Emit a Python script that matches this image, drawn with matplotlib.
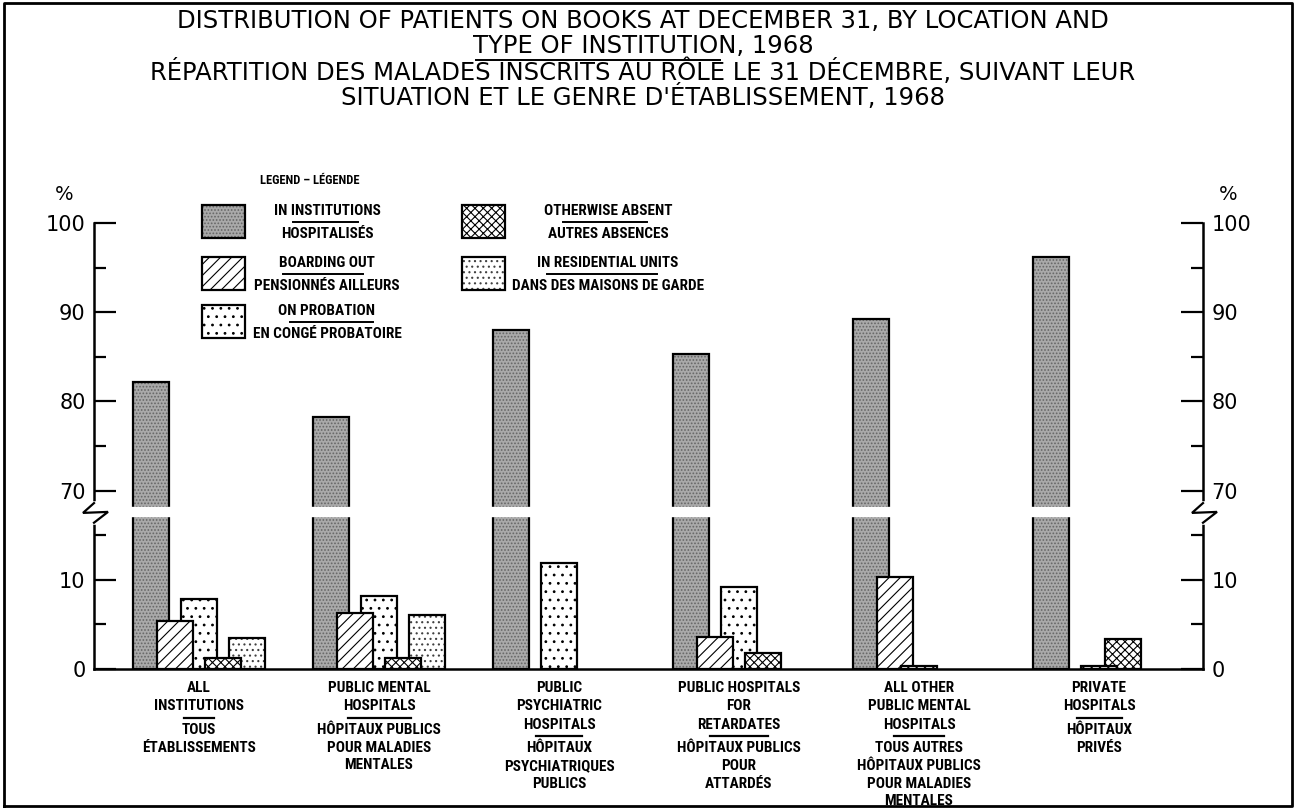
import matplotlib
matplotlib.use('Agg')
import matplotlib.pyplot as plt
from matplotlib.patches import Rectangle
import matplotlib.transforms as mtransforms

# ---- data (percent of patients on books) ----
groups_en = [['ALL', 'INSTITUTIONS'],
             ['PUBLIC MENTAL', 'HOSPITALS'],
             ['PUBLIC', 'PSYCHIATRIC', 'HOSPITALS'],
             ['PUBLIC HOSPITALS', 'FOR', 'RETARDATES'],
             ['ALL OTHER', 'PUBLIC MENTAL', 'HOSPITALS'],
             ['PRIVATE', 'HOSPITALS']]
groups_fr = [['TOUS', 'ÉTABLISSEMENTS'],
             ['HÔPITAUX PUBLICS', 'POUR MALADIES', 'MENTALES'],
             ['HÔPITAUX', 'PSYCHIATRIQUES', 'PUBLICS'],
             ['HÔPITAUX PUBLICS', 'POUR', 'ATTARDÉS'],
             ['TOUS AUTRES', 'HÔPITAUX PUBLICS', 'POUR MALADIES', 'MENTALES'],
             ['HÔPITAUX', 'PRIVÉS']]

institutions = [82.2, 78.3, 88.0, 85.3, 89.2, 96.2]
boarding = [5.4, 6.3, 0.0, 3.6, 10.3, 0.0]
probation = [7.9, 8.2, 11.9, 9.2, 0.3, 0.3]
otherwise = [1.2, 1.2, 0.0, 1.8, 0.0, 3.4]
residential = [3.5, 6.0, 0.0, 0.0, 0.0, 0.0]

series_en = ['IN INSTITUTIONS', 'BOARDING OUT', 'ON PROBATION',
             'OTHERWISE ABSENT', 'IN RESIDENTIAL UNITS']
series_fr = ['HOSPITALISÉS', 'PENSIONNÉS AILLEURS', 'EN CONGÉ PROBATOIRE',
             'AUTRES ABSENCES', 'DANS DES MAISONS DE GARDE']

y_major = [0, 10, 70, 80, 90, 100]
y_minor = [5, 15, 75, 85, 95]

title_lines = ['DISTRIBUTION OF PATIENTS ON BOOKS AT DECEMBER 31, BY LOCATION AND',
               'TYPE OF INSTITUTION, 1968',
               'RÉPARTITION DES MALADES INSCRITS AU RÔLE LE 31 DÉCEMBRE, SUIVANT LEUR',
               "SITUATION ET LE GENRE D'ÉTABLISSEMENT, 1968"]

# ---- broken scale: 0..17 shown as is, 70..100 shifted down by 50 ----
BREAK_LO, BREAK_HI, SHIFT = 17.2, 18.2, 50


def vis(v):
    return v if v <= BREAK_LO else v - SHIFT


plt.rcParams['hatch.linewidth'] = 0.8
LAB = ['Roboto Condensed', 'DejaVu Sans']

styles = [dict(face='#a9a9a9', hatch='.....', hc='#666666'),
          dict(face='white', hatch='///', hc='black'),
          dict(face='white', hatch='..', hc='black'),
          dict(face='white', hatch='xxxx', hc='black'),
          dict(face='white', hatch='...', hc='#404040')]

fig = plt.figure(figsize=(12.98, 8.08), dpi=100)
ov = fig.add_axes([0, 0, 1, 1], zorder=2)
ov.set_xlim(0, 1298)
ov.set_ylim(808, 0)
ov.axis('off')
ov.patch.set_alpha(0)

ax = fig.add_axes([94 / 1298, 139 / 808, 1109 / 1298, 446 / 808], zorder=1)
ax.patch.set_alpha(0)

W, STEP = 0.2, 0.1333
all_series = [institutions, boarding, probation, otherwise, residential]
for k, vals in enumerate(all_series):
    st = styles[k]
    for i, v in enumerate(vals):
        if v <= 0:
            continue
        z = 2 + (100 - v) / 100   # shorter bars sit in front
        x = i + k * STEP
        ax.bar(x, vis(v), W, align='edge', color=st['face'], edgecolor=st['hc'],
               hatch=st['hatch'], linewidth=0, zorder=z)
        ax.bar(x, vis(v), W, align='edge', fill=False, edgecolor='black',
               linewidth=1.6, zorder=z + 0.001)

# white gap through the tall bars
ax.axhspan(BREAK_LO, BREAK_HI, xmin=0.005, xmax=0.995, color='white', zorder=10)

ax.set_xlim(-0.2167, 5.944)
ax.set_ylim(0, 50)
ax.set_xticks([])
ax.set_yticks([vis(t) for t in y_major])
ax.set_yticklabels([str(t) for t in y_major])
ax.set_yticks([vis(t) for t in y_minor], minor=True)
ax.tick_params(axis='y', which='both', direction='in', left=True, right=True,
               labelleft=True, labelright=True, width=1.6, labelsize=15, pad=6)
ax.tick_params(axis='y', which='major', length=16)
ax.tick_params(axis='y', which='minor', length=8.5)
ax.spines['top'].set_visible(False)
for s in ['left', 'right', 'bottom']:
    ax.spines[s].set_linewidth(1.8)

# zigzag break marks on both spines
y0 = 669
ppu = 446 / 50
yb_top = y0 - ppu * 18.6
yb_mid = y0 - ppu * 17.5
yb_bot = y0 - ppu * 16.4
for sx in (94, 1203):
    ov.plot([sx, sx], [yb_top + 1, yb_bot - 1], color='white', lw=4, zorder=5)
    ov.plot([sx, sx - 11, sx + 14, sx], [yb_top, yb_mid, yb_mid - 1, yb_bot],
            color='black', lw=1.6, zorder=6, solid_joinstyle='miter')

# % labels
ov.text(64, 195, '%', ha='center', va='center', fontsize=14)
ov.text(1228, 195, '%', ha='center', va='center', fontsize=14)

# category labels under each group
tr = mtransforms.blended_transform_factory(ax.transData, ov.transData)
ul_w = [0.17, 0.35, 0.26, 0.32, 0.28, 0.25]
for i in range(len(groups_en)):
    cx = i + (4 * STEP + W) / 2
    y = 688
    for line in groups_en[i]:
        ax.text(cx, y, line, transform=tr, ha='center', va='center',
                family=LAB, weight='bold', fontsize=11)
        y += 18.5
    ax.plot([cx - ul_w[i] / 2, cx + ul_w[i] / 2], [y - 7.5, y - 7.5], transform=tr,
            color='black', lw=1.6, clip_on=False)
    y += 5
    for line in groups_fr[i]:
        ax.text(cx, y, line, transform=tr, ha='center', va='center',
                family=LAB, weight='bold', fontsize=11)
        y += 17.5

# legend
ov.text(310, 181, 'LEGEND – LÉGENDE', ha='center', va='center',
        family=LAB, weight='bold', fontsize=9)
leg_pos = [(202, 205, 327), (202, 257, 327), (202, 305, 327),
           (462, 205, 608), (462, 257, 608)]
leg_ul = [(293, 358), (283, 363), (290, 373), (563, 647), (547, 657)]
for k, (bx, by, tx) in enumerate(leg_pos):
    st = styles[k]
    ov.add_patch(Rectangle((bx, by), 43, 33, facecolor=st['face'], edgecolor=st['hc'],
                           hatch=st['hatch'], linewidth=0, zorder=3))
    ov.add_patch(Rectangle((bx, by), 43, 33, fill=False, edgecolor='black',
                           linewidth=1.6, zorder=4))
    ov.text(tx, by + 6, series_en[k], ha='center', va='center',
            family=LAB, weight='bold', fontsize=11)
    ov.plot(leg_ul[k], [by + 17, by + 17], color='black', lw=1.4)
    ov.text(tx, by + 29, series_fr[k], ha='center', va='center',
            family=LAB, weight='bold', fontsize=11)

# title
for j, line in enumerate(title_lines):
    ov.text(643, 21 + j * 25.2, line, ha='center', va='center', fontsize=17.5)
ov.plot([476, 720], [59.5, 59.5], color='black', lw=1.4)

# outer frame
ov.plot([4, 4, 1292, 1292, 4], [806, 3, 3, 806, 806], color='black', lw=2,
        clip_on=False)

fig.savefig('out.png', dpi=100)
